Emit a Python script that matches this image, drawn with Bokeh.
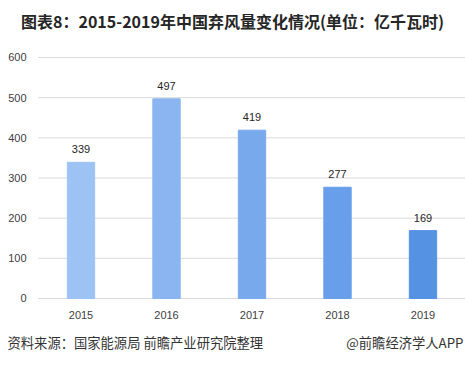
from bokeh.plotting import figure
from bokeh.models import ColumnDataSource, Label, Range1d
from bokeh.core.properties import value
from bokeh.embed import file_html
from bokeh.resources import INLINE

years = ["2015", "2016", "2017", "2018", "2019"]
curtailment = [339, 497, 419, 277, 169]
bar_colors = ["#9DC3F5", "#8AB5F0", "#78A9EC", "#699FEA", "#5592E4"]
y_ticks = [0, 100, 200, 300, 400, 500, 600]
title_text = "图表8：2015-2019年中国弃风量变化情况(单位：亿千瓦时)"
source_text = "资料来源：国家能源局 前瞻产业研究院整理"
credit_text = "@前瞻经济学人APP"

idx = list(range(len(years)))
src = ColumnDataSource(dict(x=idx, y=curtailment, c=bar_colors,
                            t=[str(v) for v in curtailment], yr=years,
                            zero=[0] * len(years)))

W, H = 465, 369
p = figure(width=W, height=H, output_backend="svg", toolbar_location=None,
           x_range=Range1d(-0.9415, 4.497), y_range=Range1d(-176.8, 741.9),
           x_axis_location=None, y_axis_location=None,
           min_border=0, min_border_left=0, min_border_right=0,
           min_border_top=0, min_border_bottom=0,
           background_fill_color="white", border_fill_color="white",
           outline_line_color=None)
p.xgrid.visible = False
p.ygrid.visible = False

# gridlines across the category band
n = len(years)
p.segment(x0=[-0.5] * len(y_ticks), x1=[n - 0.5] * len(y_ticks),
          y0=y_ticks, y1=y_ticks, line_color="#D9D9D9", line_width=1)

p.vbar(x="x", top="y", width=0.32, color="c", source=src)

num_font = value("Liberation Sans")
p.text(x="x", y="y", text="t", source=src, text_align="center",
       text_baseline="middle", y_offset=-13, text_font_size="11px",
       text_color="#262626", text_font=num_font)
p.text(x="x", y="zero", text="yr", source=src, text_align="center",
       text_baseline="middle", y_offset=17, text_font_size="11px",
       text_color="#404040", text_font=num_font)

for t in y_ticks:
    p.add_layout(Label(x=26, y=t, x_units="screen", y_units="data", text=str(t),
                       text_align="right", text_baseline="middle",
                       text_font="Liberation Sans", text_font_size="11px",
                       text_color="#404040"))

cjk = "Noto Sans CJK SC"
p.add_layout(Label(x=232, y=349, x_units="screen", y_units="screen",
                   text=title_text, text_align="center", text_baseline="middle",
                   text_font=cjk, text_font_size="16px", text_font_style="bold",
                   text_color="#262626"))
p.add_layout(Label(x=7, y=27, x_units="screen", y_units="screen",
                   text=source_text, text_align="left", text_baseline="middle",
                   text_font=cjk, text_font_size="13.3px", text_color="#333333"))
p.add_layout(Label(x=463, y=27, x_units="screen", y_units="screen",
                   text=credit_text, text_align="right", text_baseline="middle",
                   text_font=cjk, text_font_size="13.3px", text_color="#333333"))

open("out.html", "w").write(file_html(p, INLINE))
